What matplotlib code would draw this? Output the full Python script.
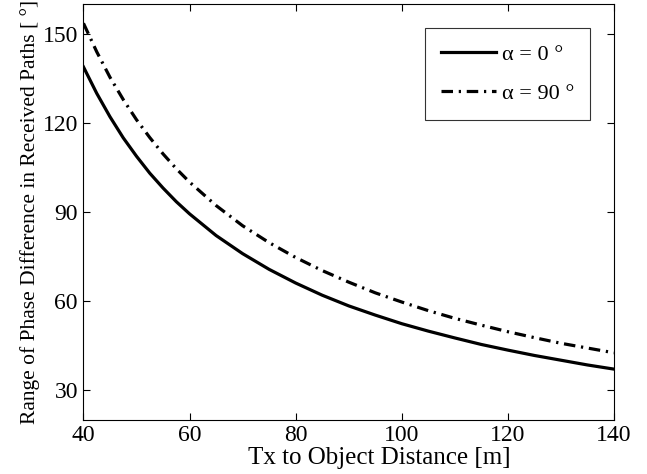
import matplotlib
matplotlib.use("Agg")
import matplotlib.pyplot as plt

# distance from Tx to object [m]
dist = [40, 42.5, 45, 47.5, 50, 52.5, 55, 57.5, 60, 65, 70, 75, 80, 85, 90, 95, 100,
        105, 110, 115, 120, 125, 130, 135, 140]
# range of phase difference [deg], alpha = 0
phase_a0 = [138.8, 129.9, 122.0, 114.9, 108.7, 103.0, 98.0, 93.4, 89.3, 82.0, 75.9,
            70.6, 66.0, 61.9, 58.3, 55.2, 52.3, 49.8, 47.5, 45.3, 43.4, 41.6, 40.0,
            38.4, 37.0]
# alpha = 90
phase_a90 = [153.5, 143.9, 135.3, 127.8, 121.0, 115.0, 109.5, 104.5, 100.0, 92.1, 85.3,
             79.6, 74.6, 70.2, 66.3, 62.7, 59.6, 56.7, 54.1, 51.8, 49.6, 47.6, 45.7,
             44.1, 42.5]

x_ticks = [40, 60, 80, 100, 120, 140]
y_ticks = [30, 60, 90, 120, 150]

plt.rcParams['font.family'] = ['Liberation Serif', 'DejaVu Serif']

fig = plt.figure(figsize=(6.47, 4.74), dpi=100)
ax = fig.add_axes([0.129, 0.1148, 0.82, 0.8768])

ax.plot(dist, phase_a0, color='black', lw=2.3, label='α = 0 °')
ax.plot(dist, phase_a90, color='black', lw=2.3, dashes=(3.6, 1.8, 0.7, 1.8),
        label='α = 90 °')

ax.set_xlim(40, 140)
ax.set_ylim(20, 160)
ax.set_xticks(x_ticks)
ax.set_yticks(y_ticks)
ax.tick_params(direction='in', length=5, width=0.8, top=True, right=True,
               labelsize=17, pad=4)
for s in ax.spines.values():
    s.set_linewidth(0.8)

ax.set_xlabel('Tx to Object Distance [m]', fontsize=18)
ax.xaxis.set_label_coords(0.557, -0.066)
ax.set_ylabel('Range of Phase Difference in Received Paths [ °]', fontsize=15.5,
              labelpad=2)

leg = ax.legend(loc='upper right', fontsize=16, handlelength=2.5, frameon=True,
                fancybox=False, edgecolor='black', borderpad=0.72,
                labelspacing=0.85, handletextpad=0.25, borderaxespad=0,
                bbox_to_anchor=(0.955, 0.942))
leg.get_frame().set_linewidth(0.8)

fig.savefig('out.png', dpi=100)
